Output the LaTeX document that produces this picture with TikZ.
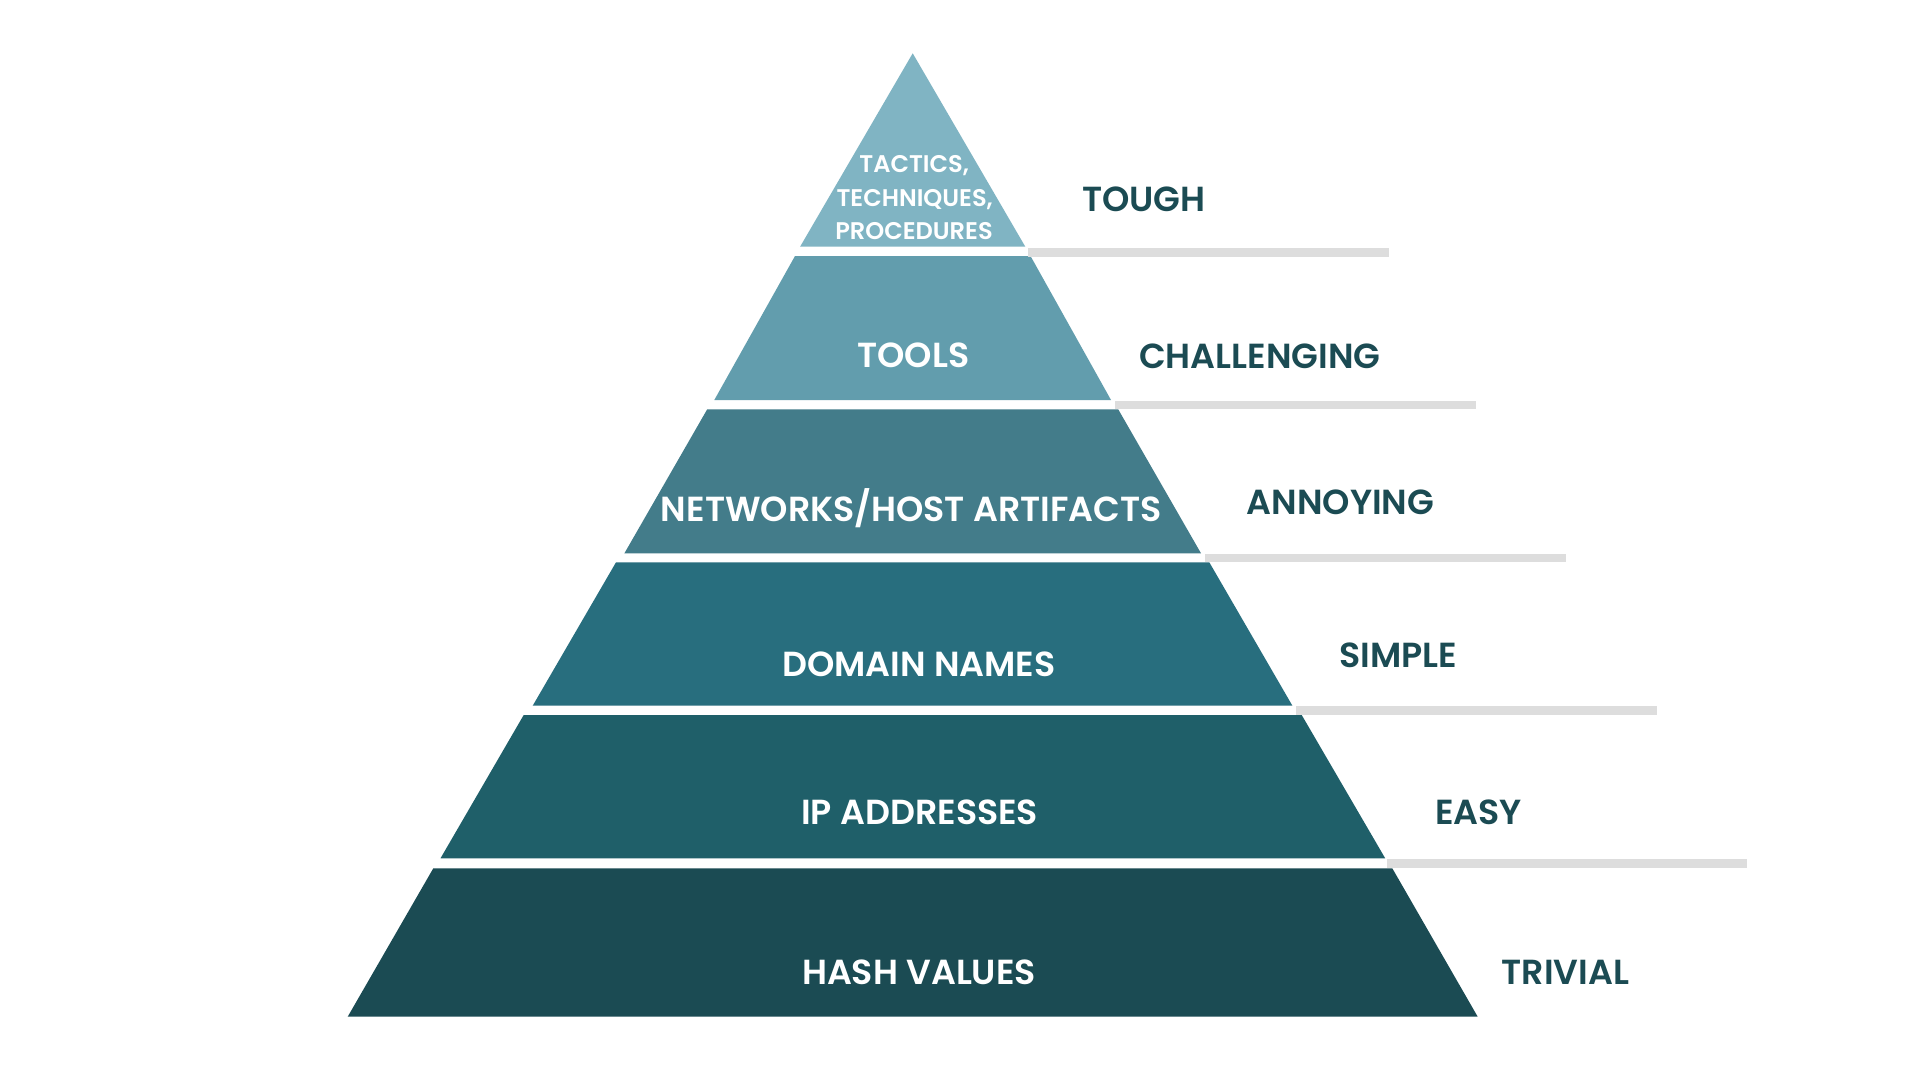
\documentclass[tikz,border=0pt]{standalone}
\usepackage{fontspec}
\setmainfont{Poppins}[BoldFont={Poppins SemiBold}]
\definecolor{cA}{HTML}{80B4C3}
\definecolor{cB}{HTML}{629DAD}
\definecolor{cC}{HTML}{437C8A}
\definecolor{cD}{HTML}{286E7E}
\definecolor{cE}{HTML}{1F5F69}
\definecolor{cF}{HTML}{1B4B53}
\definecolor{gline}{HTML}{DDDDDD}
\definecolor{ltext}{HTML}{1B4B53}
\tikzset{
  layer/.style={draw=none},
  inlbl/.style={anchor=base, inner sep=0pt, text=white, font=\fontsize{34.8}{40}\selectfont\bfseries},
  ttplbl/.style={anchor=base, inner sep=0pt, text=white, font=\fontsize{24.1}{28}\selectfont\bfseries},
  rlbl/.style={anchor=base west, inner sep=0pt, text=ltext, font=\fontsize{34.8}{40}\selectfont\bfseries},
  gbar/.style={fill=gline, draw=none}
}
\begin{document}
\begin{tikzpicture}[x=1pt,y=-1pt]
\useasboundingbox (0,0) rectangle (1920,1080);
\fill[white] (0,0) rectangle (1920,1080);
% pyramid layers
\fill[layer,cA] (912.7,53.3) -- (1025.3,246.7) -- (800.1,246.7) -- cycle;
\fill[layer,cB] (795,256) -- (1030.5,256) -- (1111,400) -- (714.3,400) -- cycle;
\fill[layer,cC] (707.2,409.3) -- (1118.2,409.3) -- (1201,553.3) -- (624.4,553.3) -- cycle;
\fill[layer,cD] (616,562.3) -- (1209.3,562.3) -- (1292.4,705.7) -- (532.7,705.7) -- cycle;
\fill[layer,cE] (523.7,715) -- (1301.7,715) -- (1385.2,858.3) -- (440.5,858.3) -- cycle;
\fill[layer,cF] (433.3,868.3) -- (1392.3,868.3) -- (1477.7,1016.7) -- (347.7,1016.7) -- cycle;
% grey bars
\fill[gbar] (1028,248.2) rectangle (1389,256.8);
\fill[gbar] (1115,400.8) rectangle (1476,409.3);
\fill[gbar] (1205,553.6) rectangle (1566,562.1);
\fill[gbar] (1296,706.2) rectangle (1657,714.8);
\fill[gbar] (1386.7,858.6) rectangle (1747.3,867.6);
% inner labels
\node[ttplbl] (t1) at (914.2,172.3) {TACTICS,};
\node[ttplbl] (t2) at (914.7,206.3) {TECHNIQUES,};
\node[ttplbl] (t3) at (914,239) {PROCEDURES};
\node[inlbl] (tools) at (913.3,367.7) {TOOLS};
\node[inlbl] (net) at (911.3,521.7) {NETWORKS/HOST ARTIFACTS};
\node[inlbl] (dom) at (918.8,676.7) {DOMAIN NAMES};
\node[inlbl] (ip) at (919.7,824) {IP ADDRESSES};
\node[inlbl] (hash) at (919,984) {HASH VALUES};
% right labels
\node[rlbl] (tough) at (1082,211) {TOUGH};
\node[rlbl] (chal) at (1139,368.3) {CHALLENGING};
\node[rlbl] (ann) at (1246.5,514.5) {ANNOYING};
\node[rlbl] (simp) at (1339,667) {SIMPLE};
\node[rlbl] (easy) at (1435,824.6) {EASY};
\node[rlbl] (triv) at (1501.5,984.4) {TRIVIAL};
\end{tikzpicture}
\end{document}
